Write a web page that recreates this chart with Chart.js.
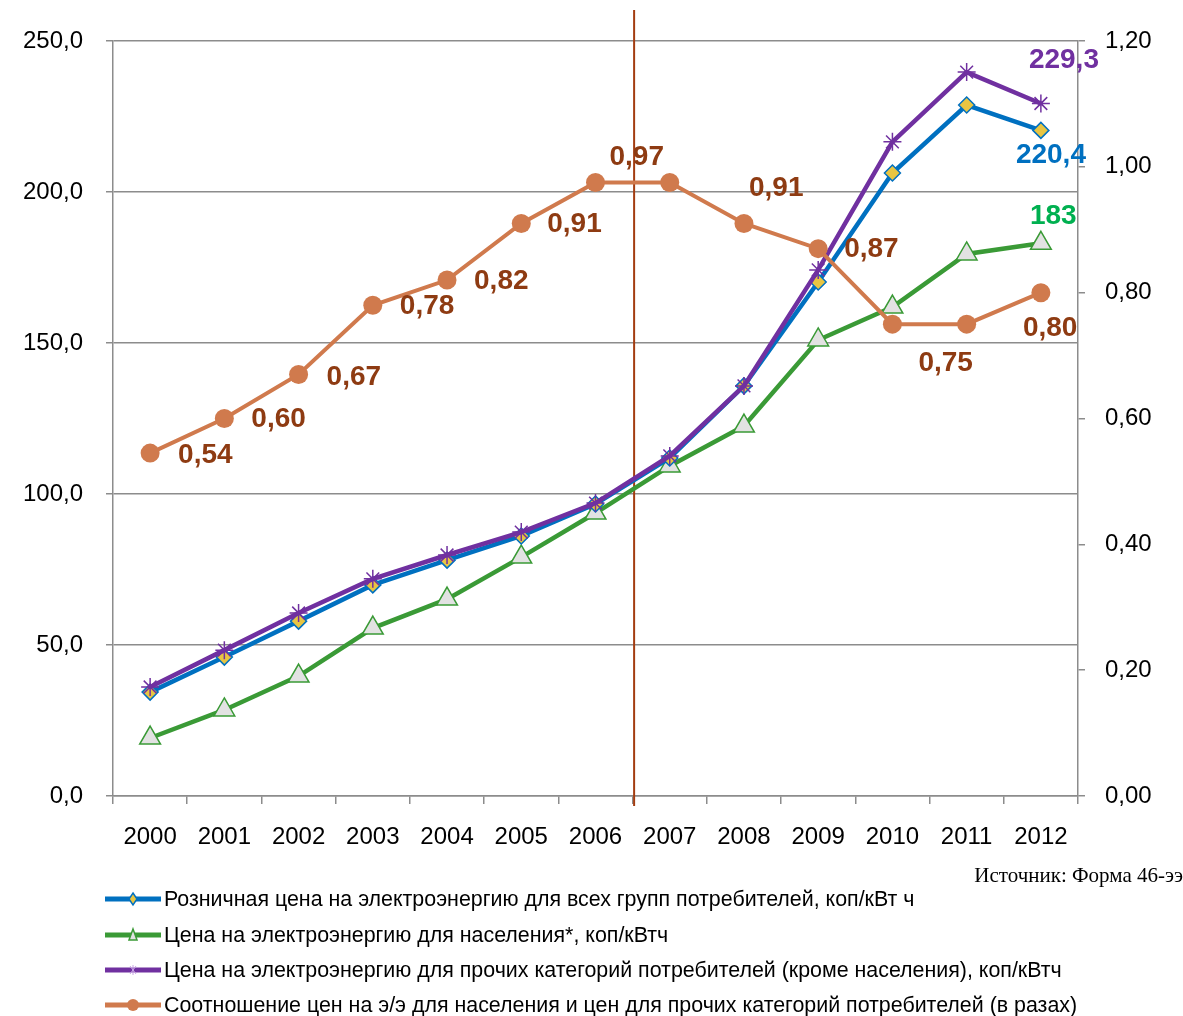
<!DOCTYPE html>
<html>
<head>
<meta charset="utf-8">
<script src="https://cdn.jsdelivr.net/npm/chart.js@4.4.0/dist/chart.umd.min.js"></script>
<style>
  html, body { margin:0; padding:0; background:#fff; }
  #c { display:block; }
</style>
</head>
<body>
<canvas id="c" width="1183" height="1016"></canvas>
<script>
// --- data ---
const years = ['2000','2001','2002','2003','2004','2005','2006','2007','2008','2009','2010','2011','2012'];
const retailPrice    = [34.4, 46.0, 57.9, 69.9, 78.1, 86.1, 96.7, 111.9, 135.8, 170.2, 206.3, 228.8, 220.4];
const householdPrice = [19.2, 28.5, 39.7, 55.6, 65.2, 79.1, 93.7, 109.3, 122.5, 151.0, 161.9, 179.5, 183];
const otherPrice     = [36.1, 48.3, 60.6, 71.9, 79.8, 87.4, 97.0, 112.6, 135.8, 174.2, 216.6, 239.7, 229.3];
const priceRatio     = [0.545, 0.60, 0.67, 0.78, 0.82, 0.91, 0.975, 0.975, 0.91, 0.87, 0.75, 0.75, 0.80];
const ratioLabels    = ['0,54','0,60','0,67','0,78','0,82','0,91','0,97', null,'0,91','0,87','0,75', null,'0,80'];
const endLabels      = { retail: '220,4', household: '183', other: '229,3' };

const legendNames = [
  'Розничная цена на электроэнергию для всех групп потребителей, коп/кВт ч',
  'Цена на электроэнергию для населения*, коп/кВтч',
  'Цена на электроэнергию для прочих категорий потребителей (кроме населения), коп/кВтч',
  'Соотношение цен на э/э для населения и цен для прочих категорий потребителей (в разах)'
];
const sourceNote = 'Источник: Форма 46-ээ';

// --- styles ---
const C = {
  blue: '#0070C0', green: '#3A9A36', purple: '#7030A0', ratio: '#D07A4D',
  ratioText: '#8E3B12', greenText: '#00B050', yellow: '#E8C542', tri: '#E2E2E2',
  grid: '#8C8C8C', divider: '#A33C10'
};
// label offsets (px) relative to the point, text drawn left-aligned
const ratioLabelOffsets = [[28,2],[27,1],[28,3],[27,1],[27,1],[26,1],[14,-25],[0,0],[5,-35],[26,1],[26,39],[0,0],[-18,36]];

const fmt = (v, d) => v.toFixed(d).replace('.', ',');

const labelsPlugin = {
  id: 'labels',
  afterDatasetsDraw(chart){
    const ctx = chart.ctx;
    ctx.save();
    ctx.font = 'bold 28px "Liberation Sans", Arial, sans-serif';
    ctx.textAlign = 'left';
    ctx.textBaseline = 'middle';
    chart.getDatasetMeta(3).data.forEach((pt, i) => {
      if(!ratioLabels[i]) return;
      const [dx, dy] = ratioLabelOffsets[i];
      ctx.fillStyle = C.ratioText;
      ctx.fillText(ratioLabels[i], pt.x + dx, pt.y + dy);
    });
    const last = years.length - 1;
    const ends = [
      {ds:2, text: endLabels.other, color: C.purple, dx:-12, dy:-43},
      {ds:0, text: endLabels.retail, color: C.blue, dx:-25, dy:25},
      {ds:1, text: endLabels.household, color: C.greenText, dx:-11, dy:-27}
    ];
    ends.forEach(e => {
      const pt = chart.getDatasetMeta(e.ds).data[last];
      ctx.fillStyle = e.color;
      ctx.fillText(e.text, pt.x + e.dx, pt.y + e.dy);
    });
    ctx.restore();
  }
};

const dividerPlugin = {
  id: 'divider',
  beforeDatasetsDraw(chart){
    const x = chart.scales.x;
    const px = (x.getPixelForValue(6) + x.getPixelForValue(7)) / 2 + 1.5;
    const ctx = chart.ctx;
    ctx.save();
    ctx.strokeStyle = C.divider;
    ctx.lineWidth = 2;
    ctx.beginPath();
    ctx.moveTo(px, 10);
    ctx.lineTo(px, chart.chartArea.bottom + 10);
    ctx.stroke();
    ctx.restore();
  }
};

const legendPlugin = {
  id: 'customLegend',
  afterDraw(chart){
    const ctx = chart.ctx;
    ctx.save();
    ctx.font = '21px "Liberation Serif", "Times New Roman", serif';
    ctx.fillStyle = '#000';
    ctx.textAlign = 'right';
    ctx.textBaseline = 'middle';
    ctx.fillText(sourceNote, 1183, 876);

    const rows = [899, 935, 970, 1005];
    const colors = [C.blue, C.green, C.purple, C.ratio];
    ctx.textAlign = 'left';
    ctx.font = '21.4px "Liberation Sans", Arial, sans-serif';
    rows.forEach((y, i) => {
      ctx.strokeStyle = colors[i];
      ctx.lineWidth = 5;
      ctx.beginPath();
      ctx.moveTo(105, y); ctx.lineTo(161, y);
      ctx.stroke();
      const mx = 133;
      if(i === 0){
        ctx.fillStyle = C.yellow; ctx.strokeStyle = C.blue; ctx.lineWidth = 1.5;
        ctx.beginPath(); ctx.moveTo(mx, y-6); ctx.lineTo(mx+4, y); ctx.lineTo(mx, y+6); ctx.lineTo(mx-4, y); ctx.closePath();
        ctx.fill(); ctx.stroke();
      } else if(i === 1){
        ctx.fillStyle = C.tri; ctx.strokeStyle = C.green; ctx.lineWidth = 1.5;
        ctx.beginPath(); ctx.moveTo(mx, y-6); ctx.lineTo(mx+4, y+5); ctx.lineTo(mx-4, y+5); ctx.closePath();
        ctx.fill(); ctx.stroke();
      } else if(i === 2){
        ctx.strokeStyle = '#C9A6E6'; ctx.lineWidth = 1;
        ctx.beginPath();
        ctx.moveTo(mx-3, y-4); ctx.lineTo(mx+3, y+4);
        ctx.moveTo(mx+3, y-4); ctx.lineTo(mx-3, y+4);
        ctx.moveTo(mx, y-5); ctx.lineTo(mx, y+5);
        ctx.stroke();
      } else {
        ctx.fillStyle = C.ratio;
        ctx.beginPath(); ctx.arc(mx, y, 6, 0, Math.PI*2); ctx.fill();
      }
      ctx.fillStyle = '#000';
      ctx.fillText(legendNames[i], 164, y + 1);
    });
    ctx.restore();
  }
};

const tickFont = { family: '"Liberation Sans", Arial, sans-serif', size: 24 };

new Chart(document.getElementById('c'), {
  type: 'line',
  data: {
    labels: years,
    datasets: [
      { label: legendNames[0], data: retailPrice, yAxisID: 'y', order: 2,
        borderColor: C.blue, borderWidth: 4.5, pointStyle: 'rectRot', pointRadius: 8,
        pointBackgroundColor: C.yellow, pointBorderColor: C.blue, pointBorderWidth: 1.5 },
      { label: legendNames[1], data: householdPrice, yAxisID: 'y', order: 3,
        borderColor: C.green, borderWidth: 4.5, pointStyle: 'triangle', pointRadius: 12,
        pointBackgroundColor: C.tri, pointBorderColor: C.green, pointBorderWidth: 1.5 },
      { label: legendNames[2], data: otherPrice, yAxisID: 'y', order: 1,
        borderColor: C.purple, borderWidth: 4.5, pointStyle: 'star', pointRadius: 9,
        pointBackgroundColor: C.purple, pointBorderColor: C.purple, pointBorderWidth: 1.5 },
      { label: legendNames[3], data: priceRatio, yAxisID: 'y2', order: 0,
        borderColor: C.ratio, borderWidth: 4, pointStyle: 'circle', pointRadius: 9.5,
        pointBackgroundColor: C.ratio, pointBorderColor: C.ratio, pointBorderWidth: 0 }
    ]
  },
  options: {
    responsive: false,
    animation: false,
    devicePixelRatio: 1,
    layout: { padding: { top: 41, left: 0, right: 0, bottom: 0 } },
    plugins: { legend: { display: false }, tooltip: { enabled: false } },
    scales: {
      x: {
        offset: true,
        grid: { offset: true, drawOnChartArea: false, drawTicks: true, tickLength: 8, color: C.grid, lineWidth: 1.5 },
        border: { color: C.grid, width: 1.5 },
        ticks: { color: '#000', font: tickFont, padding: 19, maxRotation: 0 },
        afterFit: s => { s.height = 220; }
      },
      y: {
        position: 'left', min: 0, max: 250,
        grid: { color: C.grid, lineWidth: 1.5, tickLength: 7 },
        border: { color: C.grid, width: 1.5 },
        ticks: { stepSize: 50, color: '#000', font: tickFont, padding: 23, callback: v => fmt(v, 1) },
        afterFit: s => { s.width = 113; }
      },
      y2: {
        position: 'right', min: 0, max: 1.2,
        grid: { drawOnChartArea: false, color: C.grid, lineWidth: 1.5, tickLength: 7 },
        border: { color: C.grid, width: 1.5 },
        ticks: { stepSize: 0.2, color: '#000', font: tickFont, padding: 20, callback: v => fmt(v, 2) },
        afterFit: s => { s.width = 105; }
      }
    }
  },
  plugins: [dividerPlugin, labelsPlugin, legendPlugin]
});
</script>
</body>
</html>
